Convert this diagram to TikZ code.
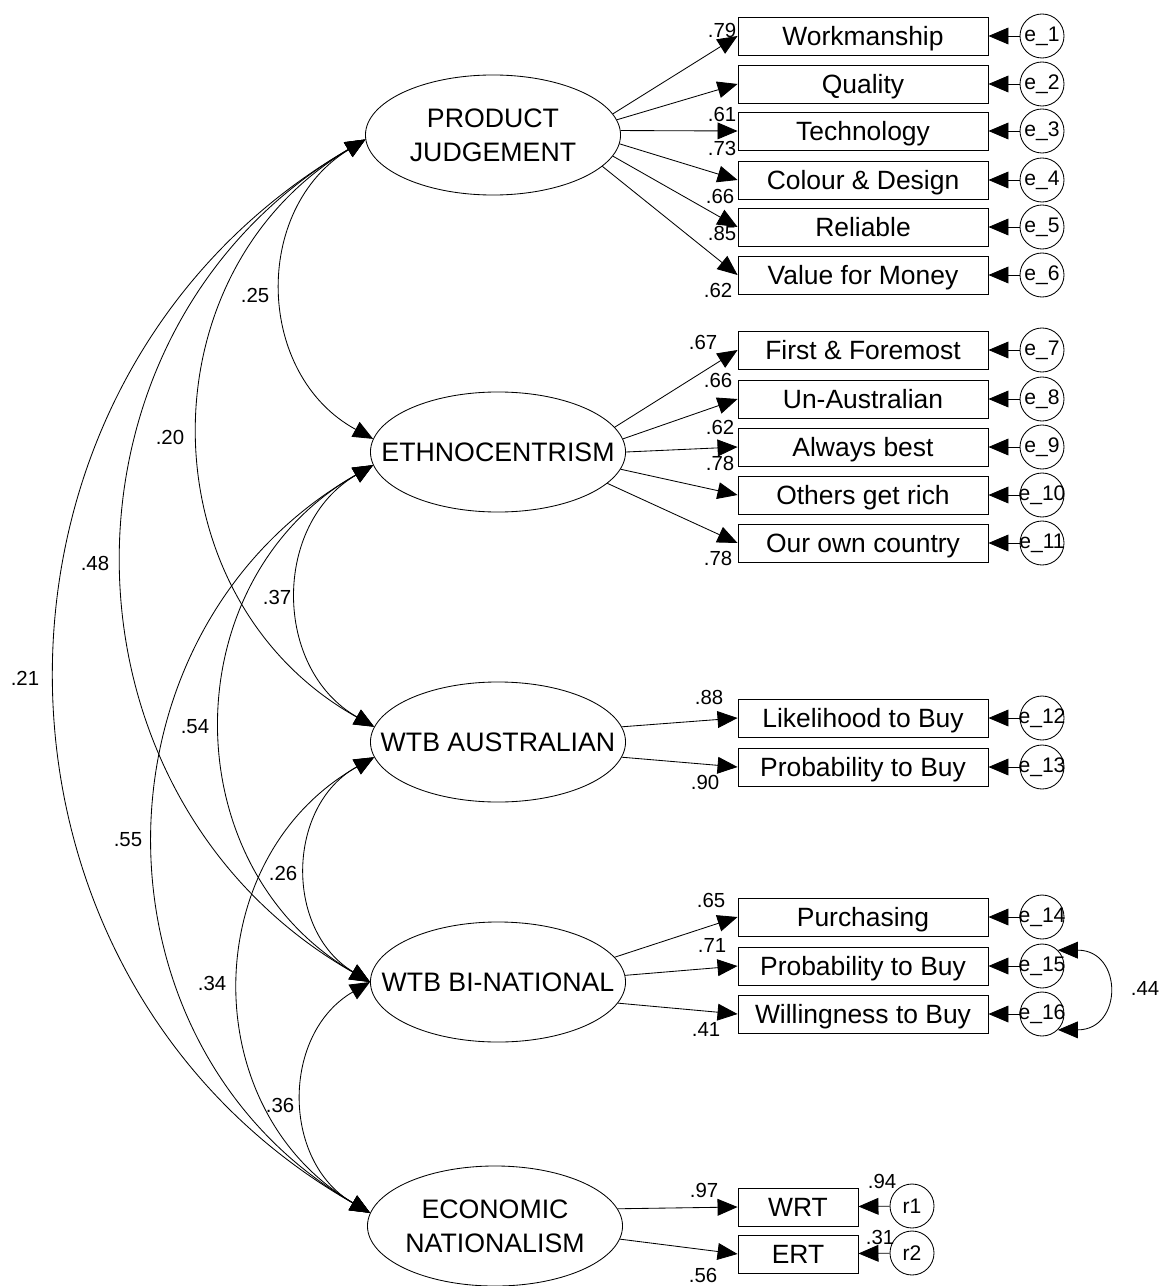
\documentclass[tikz,border=0pt]{standalone}
\usepackage{fontspec}
\setmainfont{Liberation Sans}
\usetikzlibrary{positioning,shapes,arrows.meta,calc}

\begin{document}
\begin{tikzpicture}[x=0.025cm,y=0.025cm,line width=0.6pt,
	latent/.style={ellipse,draw,minimum width=6.375cm,minimum height=3cm,inner xsep=-0.8cm,align=center,font=\fontsize{19}{24}\selectfont},
	obs/.style={rectangle,draw,minimum width=6.25cm,minimum height=0.95cm,inner sep=0pt,text height=13.5pt,text depth=0pt,font=\fontsize{18.8}{22}\selectfont},
	err/.style={circle,draw,minimum size=1.1cm,inner sep=-0.3cm,font=\fontsize{15}{17}\selectfont},
	coef/.style={inner sep=0pt,font=\fontsize{14.5}{16}\selectfont},
	load/.style={-{Triangle[length=0.5cm,width=0.42cm]}},
	cov/.style={{Triangle[length=0.5cm,width=0.42cm]}-{Triangle[length=0.5cm,width=0.42cm]},bend right=60,looseness=1.14}]
	\useasboundingbox (0,0) rectangle (1173,-1286);
	\def\bx{863}
	\def\ex{1042}
	
	% latent variables
	\node[latent] (PJ) at (493,-135) {PRODUCT\\JUDGEMENT};
	\node[latent] (ETH) at (498,-452) {ETHNOCENTRISM};
	\node[latent] (WA) at (498,-742) {WTB AUSTRALIAN};
	\node[latent] (WB) at (498,-982) {WTB BI-NATIONAL};
	\node[latent] (EN) at (495,-1226) {ECONOMIC\\NATIONALISM};
	
	% indicators and their errors
	\foreach \i/\y/\t in {1/36/Workmanship,2/84/Quality,3/131/Technology,4/180/Colour \& Design,5/227/Reliable,6/275/Value for Money,
		7/350/First \& Foremost,8/399/Un-Australian,9/447/Always best,10/495/Others get rich,11/543/Our own country,
		12/718/Likelihood to Buy,13/767/Probability to Buy,
		14/917/Purchasing,15/966/Probability to Buy,16/1014/Willingness to Buy} {
		\node[obs] (x\i) at (\bx,-\y) {\t};
		\node[err] (e\i) at (\ex,-\y) {e\_\i};
		\draw[load] (e\i) -- (x\i);
	}
	\node[obs,minimum width=3cm] (WRT) at (798,-1207) {WRT};
	\node[obs,minimum width=3cm] (ERT) at (798,-1254) {ERT};
	\node[err] (r1) at (912,-1206) {r1};
	\node[err] (r2) at (912,-1253) {r2};
	\draw[load] (r1) -- (WRT);
	\draw[load] (r2) -- (ERT);
	
	% loadings
	\foreach \i/\a in {1/10,2/7,3/2,4/-4,5/-10,6/-16} \draw[load] (PJ.\a) -- (x\i.west);
	\foreach \i/\a in {7/12,8/6,9/0,10/-8,11/-16} \draw[load] (ETH.\a) -- (x\i.west);
	\foreach \i/\a in {12/7,13/-7} \draw[load] (WA.\a) -- (x\i.west);
	\foreach \i/\a in {14/12,15/3,16/-10} \draw[load] (WB.\a) -- (x\i.west);
	\draw[load] (EN.8) -- (WRT.west);
	\draw[load] (EN.-6) -- (ERT.west);
	
	% covariances
	\draw[cov] (PJ.182) to (ETH.174);
	\draw[cov] (PJ.182) to (WA.173);
	\draw[cov] (PJ.182) to (WB.180);
	\draw[cov] (PJ.182) to (EN.174);
	\draw[cov] (ETH.186) to (WA.173);
	\draw[cov] (ETH.186) to (WB.180);
	\draw[cov] (ETH.186) to (EN.174);
	\draw[cov] (WA.187) to (WB.180);
	\draw[cov] (WA.187) to (EN.174);
	\draw[cov] (WB.180) to (EN.174);
	\draw[{Triangle[length=0.5cm,width=0.42cm]}-{Triangle[length=0.5cm,width=0.42cm]}] (e15.45) to[out=0,in=0,looseness=2.1] (e16.-45);
	
	% estimates
	\foreach \n/\x/\y/\v in {l1/722/30/.79,l2/722/114/.61,l3/722/148/.73,l4/720/196/.66,l5/722/233/.85,l6/718/290/.62,
		l7/703/342/.67,l8/718/380/.66,l9/720/427/.62,l10/720/463/.78,l11/718/558/.78,
		l12/709/697/.88,l13/705/782/.90,l14/711/900/.65,l15/712/945/.71,l16/706/1029/.41,
		l17/704/1190/.97,l18/703/1275/.56,v1/882/1181/.94,v2/880/1237/.31,v3/1145/988/.44,
		c1/255/295/.25,c2/170/437/.20,c3/95/563/.48,c4/25/678/.21,c5/277/597/.37,
		c6/195/727/.54,c7/128/840/.55,c8/283/873/.26,c9/212/983/.34,c10/280/1105/.36}
		\node[coef] (\n) at (\x,-\y) {\v};
\end{tikzpicture}
\end{document}
